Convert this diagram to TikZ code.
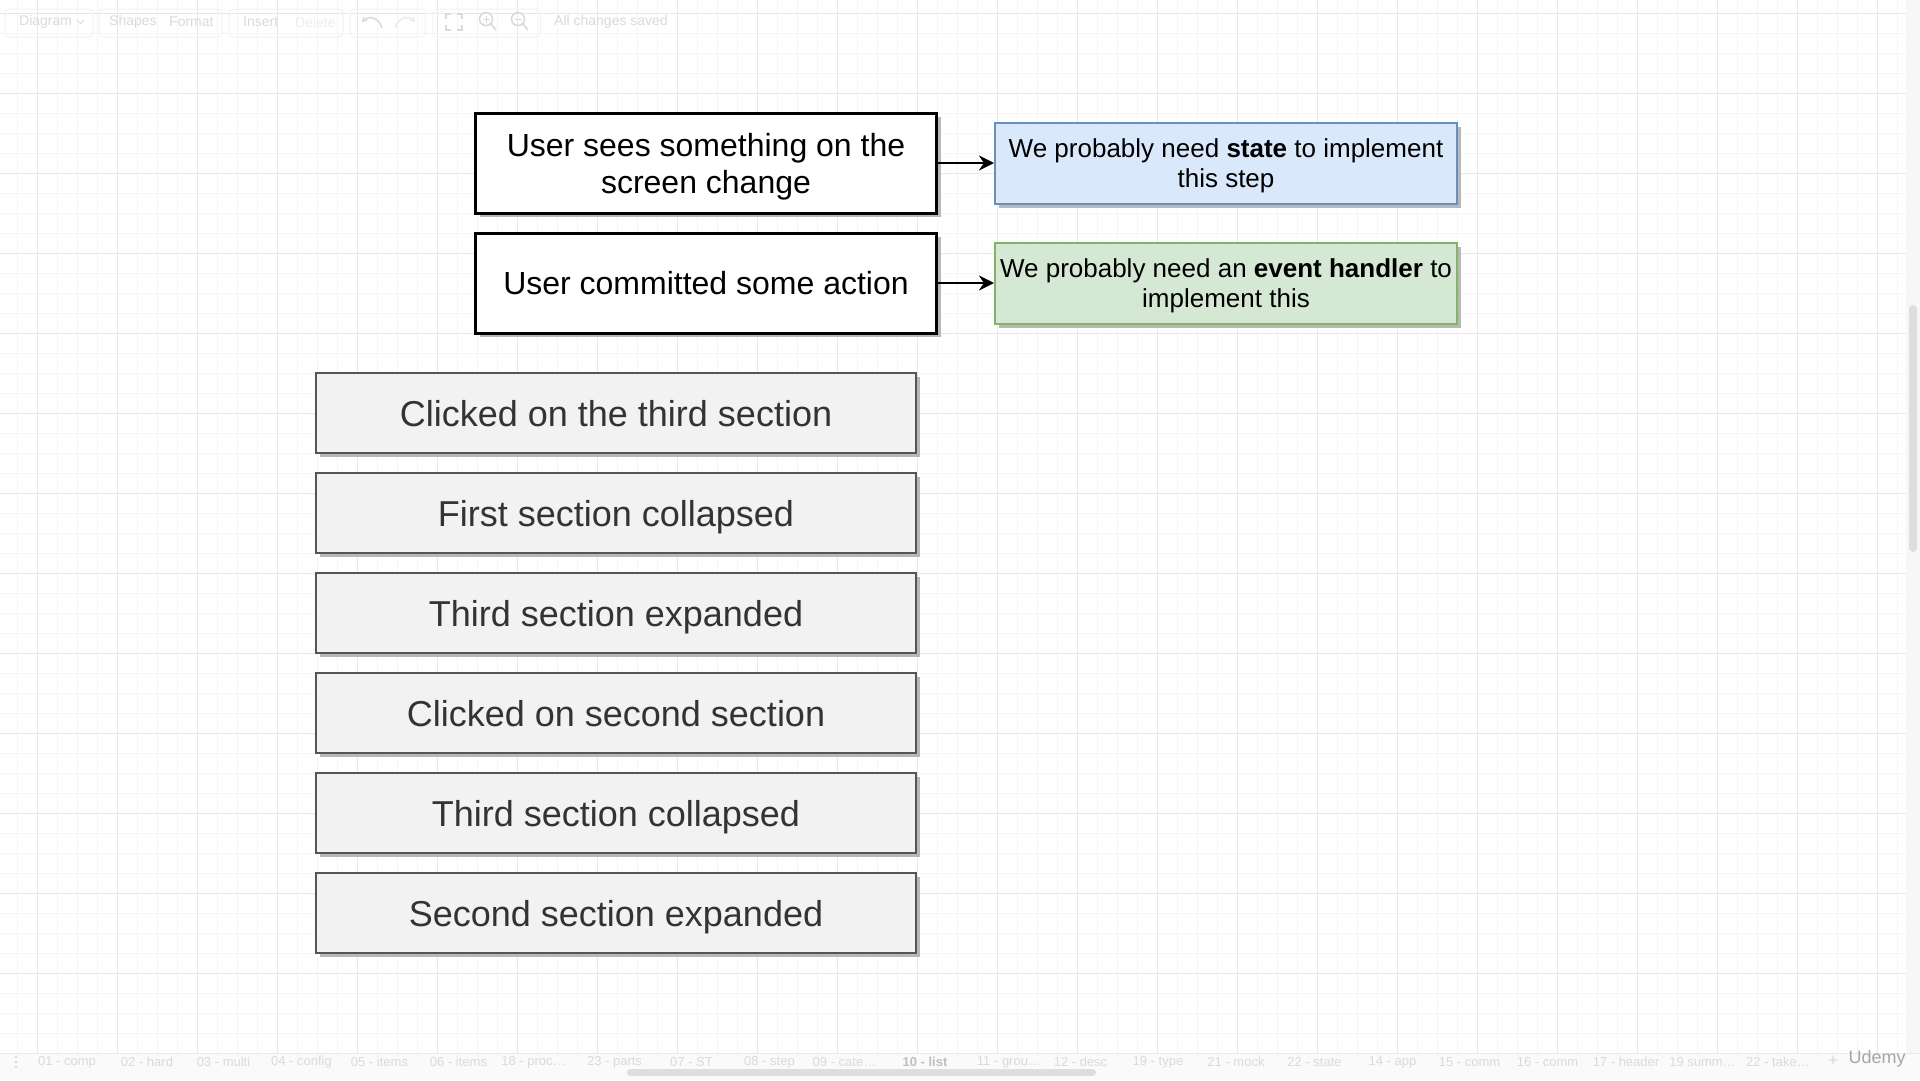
\documentclass[tikz,border=0pt]{standalone}
\usepackage{fontspec}
\setmainfont{Liberation Sans}
\usetikzlibrary{positioning,shapes,arrows.meta,shadows}

\definecolor{gridminor}{HTML}{F5F5F5}
\definecolor{gridmajor}{HTML}{E8E8E8}
\definecolor{boxfill}{HTML}{F2F2F2}
\definecolor{boxline}{HTML}{555555}
\definecolor{boxtext}{HTML}{333333}
\definecolor{statefill}{HTML}{DAE8FC}
\definecolor{stateline}{HTML}{6C8EBF}
\definecolor{handlerfill}{HTML}{D5E8D4}
\definecolor{handlerline}{HTML}{82B366}
\definecolor{uitext}{HTML}{DADADA}
\definecolor{uibar}{HTML}{DEDEDE}

\begin{document}
\begin{tikzpicture}[x=1pt, y=-1pt,
  shade box/.style={drop shadow={shadow xshift=4pt, shadow yshift=-4pt,
      fill=black!28, opacity=1}},
  eventbox/.style={draw=black, line width=3pt, fill=white, align=center,
    minimum width=461pt, minimum height=100pt, inner sep=0pt,
    font=\fontsize{32}{37}\selectfont, shade box},
  notebox/.style={line width=2pt, align=center, minimum width=462pt,
    minimum height=81pt, inner sep=0pt, text depth=-5.5pt,
    font=\fontsize{26}{30}\selectfont, shade box},
  stepbox/.style={draw=boxline, line width=2pt, fill=boxfill, text=boxtext,
    minimum width=600pt, minimum height=80pt, inner sep=0pt,
    text height=26pt, text depth=0pt,
    font=\fontsize{36}{42}\selectfont, shade box},
  link/.style={line width=2.8pt, -{Stealth[length=15pt,width=15pt]}},
  uilabel/.style={text=uitext, font=\fontsize{14}{16}\selectfont, inner sep=0pt},
  tablabel/.style={text=uitext, font=\fontsize{13}{15}\selectfont, inner sep=0pt},
  uigroup/.style={draw=black!5, line width=1pt, rounded corners=4pt},
  uiicon/.style={draw=uitext, line width=1.6pt}]

% ── Frame (pixel units, y downwards) ─────────────────────────
\useasboundingbox (0,0) rectangle (1920,1080);
\fill[white] (0,0) rectangle (1920,1080);

% ── Grid ─────────────────────────────────────────────────────
\foreach \gx in {17,37,...,1897} \draw[gridminor, line width=1pt] (\gx,0) -- (\gx,1053);
\foreach \gy in {13,33,...,1053} \draw[gridminor, line width=1pt] (0,\gy) -- (1906,\gy);
\foreach \gx in {37,117,...,1877} \draw[gridmajor, line width=1pt] (\gx,0) -- (\gx,1053);
\foreach \gy in {13,93,...,1053} \draw[gridmajor, line width=1pt] (0,\gy) -- (1906,\gy);

% ── Toolbar ──────────────────────────────────────────────────
\foreach \ga/\gb in {5/93, 99/222, 229/343, 350/425, 433/540}
  \draw[uigroup] (\ga,9) rectangle (\gb,37);
\node[uilabel, anchor=west] (tbdiagram) at (19,22) {Diagram};
\draw[uiicon, line width=1pt] (77,20) -- (80.5,23.5) -- (84,20);
\node[uilabel, anchor=west] (tbshapes) at (109,22) {Shapes};
\node[uilabel, anchor=west] (tbformat) at (169,22) {Format};
\node[uilabel, anchor=west] (tbinsert) at (243,22) {Insert};
\node[uilabel, anchor=west, text=uitext!45] (tbdelete) at (295,22) {Delete};
% undo / redo
\draw[uiicon, -{Stealth[length=5pt,width=6pt]}] (382,28) .. controls (378,16) and (368,16) .. (362,22);
\draw[uiicon, draw=uitext!50, -{Stealth[length=5pt,width=6pt]}] (395,28) .. controls (399,16) and (409,16) .. (415,22);
% fit page
\draw[uiicon] (446,19) -- (446,14) -- (451,14);
\draw[uiicon] (457,14) -- (462,14) -- (462,19);
\draw[uiicon] (462,25) -- (462,30) -- (457,30);
\draw[uiicon] (451,30) -- (446,30) -- (446,25);
% zoom in / out
\draw[uiicon] (486,19) circle (6.5);
\draw[uiicon] (491,24) -- (496,30);
\draw[uiicon, line width=1pt] (482.5,19) -- (489.5,19) (486,15.5) -- (486,22.5);
\draw[uiicon] (518,19) circle (6.5);
\draw[uiicon] (523,24) -- (528,30);
\draw[uiicon, line width=1pt] (514.5,19) -- (521.5,19);
\node[uilabel, anchor=west] (tbsaved) at (554,22) {All changes saved};

% ── Right scrollbar ──────────────────────────────────────────
\fill[black!3] (1906,0) rectangle (1920,1053);
\fill[uibar, rounded corners=4pt] (1909,305) rectangle (1917,552);

% ── Page tabs ────────────────────────────────────────────────
\fill[black!2] (0,1053) rectangle (1920,1080);
\draw[gridmajor] (0,1053) -- (1920,1053);
\foreach \dy in {1057,1062,1067} \fill[uitext] (16,\dy) circle (1.3);
\foreach \tn/\tx/\tl in {
    1/67/01 - comp, 2/147/02 - hard, 3/223.5/03 - multi, 4/301.5/04 - config,
    5/379.5/05 - items, 6/458.5/06 - items, 7/533.5/18 - proc\ldots,
    8/614.5/23 - parts, 9/691.5/07 - ST, 10/769.5/08 - step,
    11/844.5/09 - cate\ldots, 12/1009/11 - grou\ldots, 13/1080.5/12 - desc,
    14/1158/19 - type, 15/1236/21 - mock, 16/1314.5/22 - state,
    17/1392.5/14 - app, 18/1469.5/15 - comm, 19/1547.5/16 - comm,
    20/1626/17 - header, 21/1702.5/19 summ\ldots, 22/1778/22 - take\ldots} {
  \node[tablabel] (tab\tn) at (\tx,1062) {\tl};
}
\node[tablabel, text=black!25, font=\fontsize{13}{15}\selectfont\bfseries] (tabcur) at (925,1062) {10 - list};
\fill[uibar, rounded corners=3.5pt] (627,1069) rectangle (1096,1076);
\node[tablabel, font=\fontsize{18}{20}\selectfont] (tabadd) at (1833,1061) {+};
\node[tablabel, text=black!35, font=\fontsize{18}{20}\selectfont] (logo) at (1877,1059) {Udemy};

% ── Event and note boxes ─────────────────────────────────────
\node[eventbox, text depth=-2.5pt] (seen) at (706,163) {User sees something on the\\screen change};
\node[eventbox] (action) at (706,283) {User committed some action};
\node[notebox, draw=stateline, fill=statefill] (state) at (1226,163)
  {We probably need \textbf{state} to implement\\this step};
\node[notebox, draw=handlerline, fill=handlerfill] (handler) at (1226,283)
  {We probably need an \textbf{event handler} to\\implement this};

\draw[link] (seen) -- (state);
\draw[link] (action) -- (handler);

% ── Steps of the example ─────────────────────────────────────
\foreach \n/\ys/\lbl in {
    1/413/Clicked on the third section,
    2/513/First section collapsed,
    3/613/Third section expanded,
    4/713/Clicked on second section,
    5/813/Third section collapsed,
    6/913/Second section expanded} {
  \node[stepbox] (step\n) at (616,\ys) {\lbl};
}

\end{tikzpicture}
\end{document}
